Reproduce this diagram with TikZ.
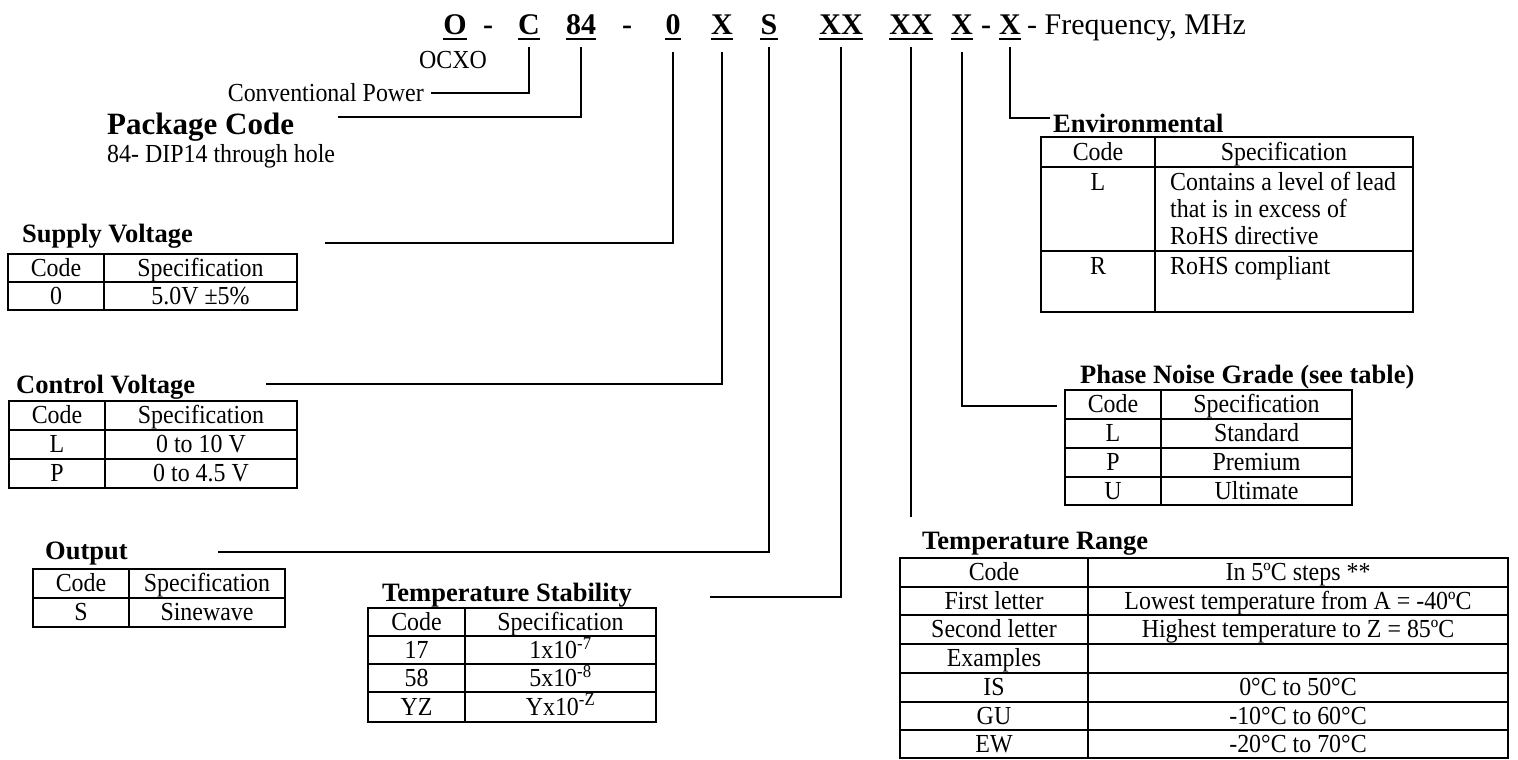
\documentclass[tikz,border=0pt]{standalone}
\usepackage{fontspec}
\setmainfont{Liberation Serif}
\newfontfamily\tabfont{Liberation Serif}[FakeStretch=0.92]
\newcommand\cellrow[6]{%
  \node[txt] (#1a) at (#2,#4) {#5};
  \node[txt] (#1b) at (#3,#4) {#6};}
\tikzset{
  grid/.style={line width=1.8pt},
  conn/.style={line width=1.6pt},
  ul/.style={line width=2.8pt},
  code/.style={inner sep=0pt, anchor=base, font=\fontsize{30}{32}\selectfont\bfseries},
  txt/.style={inner sep=0pt, anchor=base, font=\tabfont\fontsize{26}{28}\selectfont},
  txtl/.style={txt, anchor=base west},
  head/.style={inner sep=0pt, anchor=base west, font=\fontsize{26.5}{28}\selectfont\bfseries},
}
\begin{document}
\begin{tikzpicture}[x=1pt,y=-1pt]
\useasboundingbox (0,0) rectangle (1518,760);
% ---------- code line ----------
\node[code] (cO)   at (455,35) {O};
\node[code] (cD1)  at (488,35) {-};
\node[code] (cC)   at (529,35) {C};
\node[code] (c84)  at (581,35) {84};
\node[code] (cD2)  at (627,35) {-};
\node[code] (c0)   at (673,35) {0};
\node[code] (cX1)  at (722,35) {X};
\node[code] (cS)   at (769,35) {S};
\node[code] (cXX1) at (841,35) {XX};
\node[code] (cXX2) at (911,35) {XX};
\node[code] (cX2)  at (962,35) {X};
\node[code] (cD3)  at (986,35) {-};
\node[code] (cX3)  at (1010,35) {X};
\node[inner sep=0pt, anchor=base west, font=\fontsize{30}{32}\selectfont] (freq) at (1027,35) {- Frequency, MHz};
\foreach \n in {cO,cC,c84,c0,cX1,cS,cXX1,cXX2,cX2,cX3}
  \draw[ul] ([yshift=-4pt]\n.base west) -- ([yshift=-4pt]\n.base east);
% ---------- labels ----------
\node[txt] (ocxo) at (453,69) {OCXO};
\node[txt, anchor=base east] (conv) at (424,101) {Conventional Power};
\node[inner sep=0pt, anchor=base west, font=\fontsize{31}{33}\selectfont\bfseries] (pkg) at (107,134) {Package Code};
\node[txtl] (pkgd) at (107,162) {84- DIP14 through hole};
\node[head] (supT) at (22,242) {Supply Voltage};
\node[head] (ctlT) at (16,393) {Control Voltage};
\node[head] (outT) at (45,559) {Output};
\node[head] (stbT) at (382,601) {Temperature Stability};
\node[head] (envT) at (1053,132) {Environmental};
\node[head] (phT) at (1080,383) {Phase Noise Grade (see table)};
\node[head] (rgT) at (922,549) {Temperature Range};
% ---------- connector ends ----------
\coordinate (convE) at (431,93);
\coordinate (pkgE) at (338,117);
\coordinate (supE) at (325,243);
\coordinate (ctlE) at (266,384);
\coordinate (outE) at (218,552);
\coordinate (stbE) at (710,597);
\coordinate (rgE) at (911,517);
\coordinate (phE) at (1057,406);
\coordinate (envE) at (1050,118);
\draw[conn] ([yshift=-12pt]cC.south) |- (convE);
\draw[conn] ([yshift=-12pt]c84.south) |- (pkgE);
\draw[conn] ([yshift=-17pt]c0.south) |- (supE);
\draw[conn] ([yshift=-17pt]cX1.south) |- (ctlE);
\draw[conn] ([yshift=-12pt]cS.south) |- (outE);
\draw[conn] ([yshift=-12pt]cXX1.south) |- (stbE);
\draw[conn] ([yshift=-12pt]cXX2.south) -- (rgE);
\draw[conn] ([yshift=-17pt]cX2.south) |- (phE);
\draw[conn] ([yshift=-12pt]cX3.south) |- (envE);
% ---------- Supply Voltage table ----------
\draw[grid] (8,254) rectangle (297,310);
\draw[grid] (104,254) -- (104,310) (8,282) -- (297,282);
\cellrow{sv1}{56}{200.5}{276.5}{Code}{Specification}
\cellrow{sv2}{56}{200.5}{304.5}{0}{5.0V ±5\%}
% ---------- Control Voltage table ----------
\draw[grid] (9,401) rectangle (297,488);
\draw[grid] (105,401) -- (105,488) (9,430) -- (297,430) (9,459) -- (297,459);
\cellrow{cv1}{57}{201}{423.5}{Code}{Specification}
\cellrow{cv2}{57}{201}{452.5}{L}{0 to 10 V}
\cellrow{cv3}{57}{201}{481.5}{P}{0 to 4.5 V}
% ---------- Output table ----------
\draw[grid] (33,569) rectangle (285,627);
\draw[grid] (129,569) -- (129,627) (33,598) -- (285,598);
\cellrow{op1}{81}{207}{591.5}{Code}{Specification}
\cellrow{op2}{81}{207}{620.5}{S}{Sinewave}
% ---------- Temperature Stability table ----------
\draw[grid] (368,608) rectangle (656,722);
\draw[grid] (465,608) -- (465,722) (368,636) -- (656,636) (368,664) -- (656,664) (368,692) -- (656,692);
\cellrow{ts1}{416.5}{560.5}{630.5}{Code}{Specification}
\cellrow{ts2}{416.5}{560.5}{658.5}{17}{1x10\textsuperscript{-7}}
\cellrow{ts3}{416.5}{560.5}{686.5}{58}{5x10\textsuperscript{-8}}
\cellrow{ts4}{416.5}{560.5}{715}{YZ}{Yx10\textsuperscript{-Z}}
% ---------- Environmental table ----------
\draw[grid] (1041,137) rectangle (1413,312);
\draw[grid] (1155,137) -- (1155,312) (1041,167) -- (1413,167) (1041,251) -- (1413,251);
\cellrow{en1}{1098}{1284}{160}{Code}{Specification}
\node[txt] (en2a) at (1098,190) {L};
\node[txtl] (en2b) at (1170,190) {Contains a level of lead};
\node[txtl] (en2c) at (1170,217) {that is in excess of};
\node[txtl] (en2d) at (1170,244) {RoHS directive};
\node[txt] (en3a) at (1098,274) {R};
\node[txtl] (en3b) at (1170,274) {RoHS compliant};
% ---------- Phase Noise table ----------
\draw[grid] (1065,390) rectangle (1352,505);
\draw[grid] (1161,390) -- (1161,505) (1065,419) -- (1352,419) (1065,448) -- (1352,448) (1065,477) -- (1352,477);
\cellrow{pn1}{1113}{1256.5}{412.5}{Code}{Specification}
\cellrow{pn2}{1113}{1256.5}{441.5}{L}{Standard}
\cellrow{pn3}{1113}{1256.5}{470.5}{P}{Premium}
\cellrow{pn4}{1113}{1256.5}{499}{U}{Ultimate}
% ---------- Temperature Range table ----------
\draw[grid] (900,558) rectangle (1508,758);
\draw[grid] (1088,558) -- (1088,758);
\foreach \yy in {587,615,644,673,702,730} \draw[grid] (900,\yy) -- (1508,\yy);
\cellrow{tr1}{994}{1298}{580.5}{Code}{In 5ºC steps **}
\cellrow{tr2}{994}{1298}{609.5}{First letter}{Lowest temperature from A = -40ºC}
\cellrow{tr3}{994}{1298}{637.5}{Second letter}{Highest temperature to Z = 85ºC}
\node[txt] (tr4a) at (994,666.5) {Examples};
\cellrow{tr5}{994}{1298}{695.5}{IS}{0°C to 50°C}
\cellrow{tr6}{994}{1298}{724.5}{GU}{-10°C to 60°C}
\cellrow{tr7}{994}{1298}{752.5}{EW}{-20°C to 70°C}
\end{tikzpicture}
\end{document}
